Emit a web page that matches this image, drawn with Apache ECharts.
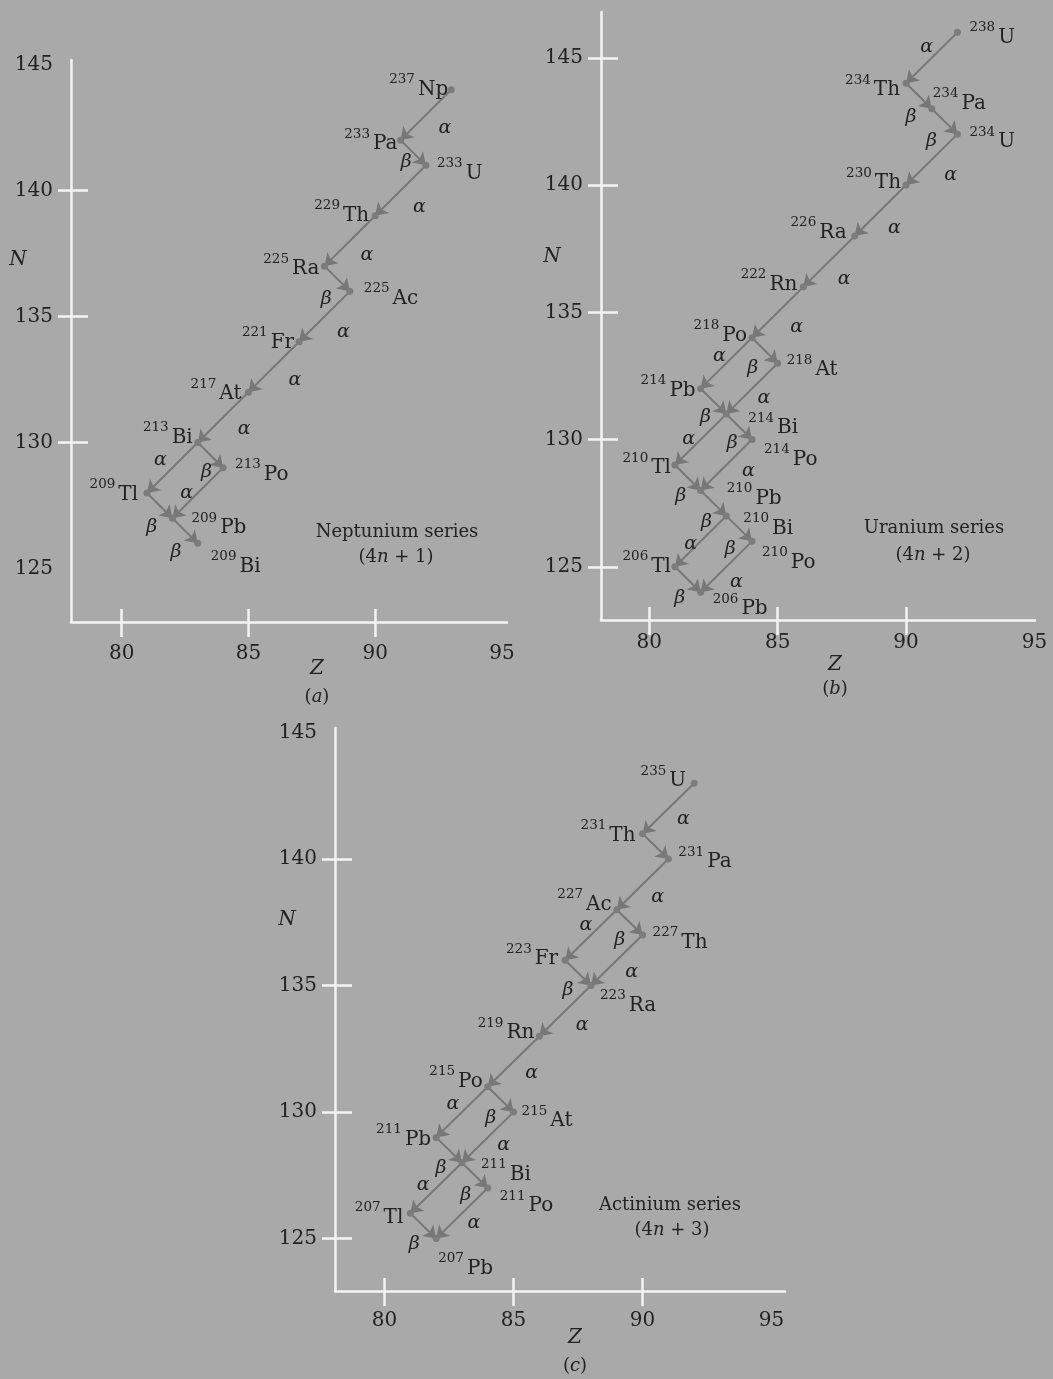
<!DOCTYPE html>
<html>
<head>
<meta charset="utf-8">
<script src="https://cdn.jsdelivr.net/npm/echarts@6/dist/echarts.min.js"></script>
<style>
  html, body { margin: 0; padding: 0; background: #a9a9a9; }
  #chart { width: 1053px; height: 1379px; }
</style>
</head>
<body>
<div id="chart"></div>
<script>
// ---- Neptunium series (4n + 1) ----
const npSymbol = ['Np', 'Pa', 'U', 'Th', 'Ra', 'Ac', 'Fr', 'At', 'Bi', 'Po', 'Tl', 'Pb', 'Bi'];
const npMass   = [237, 233, 233, 229, 225, 225, 221, 217, 213, 213, 209, 209, 209];
const npZ      = [93, 91, 92, 90, 88, 89, 87, 85, 83, 84, 81, 82, 83];
const npN      = [144, 142, 141, 139, 137, 136, 134, 132, 130, 129, 128, 127, 126];
// [parent index, daughter index, decay mode]
const npDecay  = [[0, 1, 'α'], [1, 2, 'β'], [2, 3, 'α'], [3, 4, 'α'], [4, 5, 'β'], [5, 6, 'α'],
                  [6, 7, 'α'], [7, 8, 'α'], [8, 10, 'α'], [8, 9, 'β'], [9, 11, 'α'], [10, 11, 'β'], [11, 12, 'β']];

// ---- Uranium series (4n + 2) ----
const uSymbol = ['U', 'Th', 'Pa', 'U', 'Th', 'Ra', 'Rn', 'Po', 'At', 'Pb', 'Bi', 'Po', 'Tl', 'Pb', 'Bi', 'Po', 'Tl', 'Pb'];
const uMass   = [238, 234, 234, 234, 230, 226, 222, 218, 218, 214, 214, 214, 210, 210, 210, 210, 206, 206];
const uZ      = [92, 90, 91, 92, 90, 88, 86, 84, 85, 82, 83, 84, 81, 82, 83, 84, 81, 82];
const uN      = [146, 144, 143, 142, 140, 138, 136, 134, 133, 132, 131, 130, 129, 128, 127, 126, 125, 124];
const uDecay  = [[0, 1, 'α'], [1, 2, 'β'], [2, 3, 'β'], [3, 4, 'α'], [4, 5, 'α'], [5, 6, 'α'], [6, 7, 'α'],
                 [7, 9, 'α'], [7, 8, 'β'], [8, 10, 'α'], [9, 10, 'β'], [10, 12, 'α'], [10, 11, 'β'],
                 [11, 13, 'α'], [12, 13, 'β'], [13, 14, 'β'], [14, 16, 'α'], [14, 15, 'β'], [15, 17, 'α'], [16, 17, 'β']];

// ---- Actinium series (4n + 3) ----
const acSymbol = ['U', 'Th', 'Pa', 'Ac', 'Fr', 'Th', 'Ra', 'Rn', 'Po', 'Pb', 'At', 'Bi', 'Tl', 'Po', 'Pb'];
const acMass   = [235, 231, 231, 227, 223, 227, 223, 219, 215, 211, 215, 211, 207, 211, 207];
const acZ      = [92, 90, 91, 89, 87, 90, 88, 86, 84, 82, 85, 83, 81, 84, 82];
const acN      = [143, 141, 140, 138, 136, 137, 135, 133, 131, 129, 130, 128, 126, 127, 125];
const acDecay  = [[0, 1, 'α'], [1, 2, 'β'], [2, 3, 'α'], [3, 4, 'α'], [3, 5, 'β'], [5, 6, 'α'], [4, 6, 'β'],
                  [6, 7, 'α'], [7, 8, 'α'], [8, 9, 'α'], [8, 10, 'β'], [10, 11, 'α'], [9, 11, 'β'],
                  [11, 12, 'α'], [11, 13, 'β'], [13, 14, 'α'], [12, 14, 'β']];

// Axis ticks and tick labels
const zTicks      = [80, 85, 90];
const zTickLabels = [80, 85, 90, 95];
const nTickLabels = [125, 130, 135, 140, 145];
const npNTicks    = [130, 135, 140];
const uNTicks     = [125, 130, 135, 140, 145];
const acNTicks    = [125, 130, 135, 140];

// ---- placement of the nuclide names: side of the dot, x / y shift in px ----
const npPlace = [['L', -3, 0], ['L', -3, 4], ['R', 11, 8], ['L', -6, 0], ['L', -5, 3], ['R', 14, 7], ['L', -5, 1],
                 ['L', -7, 2], ['L', -5, -5], ['R', 12, 7], ['L', -9, 2], ['R', 19, 10], ['R', 13, 23]];
const uPlace  = [['R', 12, 5], ['L', -6, 7], ['R', 1, -5], ['R', 12, 8], ['L', -5, -2], ['L', -8, -3], ['L', -6, -2],
                 ['L', -5, -2], ['R', 9, 7], ['L', -5, 2], ['R', 22, 14], ['R', 12, 20], ['L', -4, 3], ['R', 26, 8],
                 ['R', 17, 13], ['R', 10, 21], ['L', -4, 0], ['R', 12, 17]];
const acPlace = [['L', -8, -2], ['L', -7, 2], ['R', 10, 3], ['L', -5, -5], ['L', -7, -1], ['R', 10, 8], ['R', 9, 20],
                 ['L', -5, -3], ['L', -5, -5], ['L', -5, 2], ['R', 8, 9], ['R', 19, 12], ['L', -7, 4], ['R', 12, 18],
                 ['R', 2, 30]];

// shift of each α / β tag from the middle of its arrow (null: no tag)
const npTag = [[19, 13], [-7, 9], [19, 17], [17, 14], [-11, 20], [19, 16], [21, 13], [21, 12],
               [-12, -8], [-4, 17], [-11, 0], [-8, 21], [-9, 21]];
const uTag  = [[-5, -11], [-8, 21], [-13, 20], [19, 15], [14, 18], [15, 18], [19, 15], [-7, -7], [-12, 18],
               [12, 9], [-8, 16], [-12, 0], [-7, 16], [22, 6], [-7, 18], [-7, 19], [-10, 3], [-9, 20],
               [10, 15], [-8, 19]];
const acTag = [[15, 11], null, [15, 13], [-5, -10], [-10, 18], [15, 12], [-10, 17], [17, 14], [18, 12],
               [-9, -8], [-10, 19], [16, 8], [-8, 18], [-13, -3], [-9, 20], [12, 10], [-9, 18]];

// ---- look ----
const FONT = 'DejaVu Serif';
const INK = '#222222';
const AXIS = '#f4f4f4';
const MARK = '#777777';
const DOT = '#7c7c7c';

const panels = [
  { sym: npSymbol, mass: npMass, Z: npZ, N: npN, decay: npDecay, place: npPlace, tag: npTag, nTicks: npNTicks,
    grid: { left: 71, top: 60, width: 436, height: 562 }, zRange: [78.0, 95.2], nRange: [122.88, 145.18], zLabelGap: 22 },
  { sym: uSymbol, mass: uMass, Z: uZ, N: uN, decay: uDecay, place: uPlace, tag: uTag, nTicks: uNTicks,
    grid: { left: 601, top: 12, width: 434, height: 608 }, zRange: [78.12, 95.02], nRange: [122.91, 146.8], zLabelGap: 13 },
  { sym: acSymbol, mass: acMass, Z: acZ, N: acN, decay: acDecay, place: acPlace, tag: acTag, nTicks: acNTicks,
    grid: { left: 335, top: 728, width: 450, height: 563 }, zRange: [78.08, 95.52], nRange: [122.93, 145.18], zLabelGap: 20 }
];

const grids = [], xAxes = [], yAxes = [], series = [];
const tickStyle = { color: AXIS, width: 2.5 };
const tickLabel = { color: INK, fontFamily: FONT, fontSize: 20 };

panels.forEach((p, i) => {
  grids.push(Object.assign({ containLabel: false }, p.grid));
  // main Z axis (line, outer ticks, labels) + helper for the inner half of each tick
  xAxes.push({
    type: 'value', gridIndex: i, position: 'bottom', min: p.zRange[0], max: p.zRange[1],
    axisLine: { onZero: false, lineStyle: { color: AXIS, width: 2.5 } },
    axisTick: { show: true, customValues: zTicks, length: 15, lineStyle: tickStyle },
    axisLabel: Object.assign({ customValues: zTickLabels, margin: p.zLabelGap }, tickLabel),
    splitLine: { show: false }
  });
  xAxes.push({
    type: 'value', gridIndex: i, position: 'bottom', min: p.zRange[0], max: p.zRange[1],
    axisLine: { show: false, onZero: false },
    axisTick: { show: true, inside: true, customValues: zTicks, length: 13, lineStyle: tickStyle },
    axisLabel: { show: false }, splitLine: { show: false }
  });
  yAxes.push({
    type: 'value', gridIndex: i, position: 'left', min: p.nRange[0], max: p.nRange[1],
    axisLine: { onZero: false, lineStyle: { color: AXIS, width: 2.5 } },
    axisTick: { show: true, customValues: p.nTicks, length: 13, lineStyle: tickStyle },
    axisLabel: Object.assign({ customValues: nTickLabels, margin: 18 }, tickLabel),
    splitLine: { show: false }
  });
  yAxes.push({
    type: 'value', gridIndex: i, position: 'left', min: p.nRange[0], max: p.nRange[1],
    axisLine: { show: false, onZero: false },
    axisTick: { show: true, inside: true, customValues: p.nTicks, length: 17, lineStyle: tickStyle },
    axisLabel: { show: false }, splitLine: { show: false }
  });

  const ax = 2 * i;
  // decay arrows
  series.push({
    type: 'lines', coordinateSystem: 'cartesian2d', xAxisIndex: ax, yAxisIndex: ax, silent: true, z: 2,
    symbol: ['none', 'arrow'], symbolSize: 12,
    lineStyle: { color: MARK, width: 2, opacity: 1, curveness: 0 },
    data: p.decay.map(([a, b]) => ({ coords: [[p.Z[a], p.N[a]], [p.Z[b], p.N[b]]] }))
  });
  // nuclides
  series.push({
    type: 'scatter', xAxisIndex: ax, yAxisIndex: ax, silent: true, z: 3,
    symbol: 'circle', symbolSize: 7, itemStyle: { color: DOT, opacity: 1 },
    data: p.Z.map((z, k) => ({
      value: [z, p.N[k]],
      label: { align: p.place[k][0] === 'L' ? 'right' : 'left', offset: [p.place[k][1], p.place[k][2]] }
    })),
    label: {
      show: true, position: ['50%', '50%'], verticalAlign: 'middle', color: INK, opacity: 1,
      fontFamily: FONT, fontSize: 20, textBorderWidth: 0, textBorderColor: 'rgba(0,0,0,0)',
      formatter: q => `{m|${p.mass[q.dataIndex]}}{e|${p.sym[q.dataIndex]}}`,
      rich: {
        m: { fontFamily: FONT, fontSize: 13.5, lineHeight: 14, verticalAlign: 'top', padding: [0, 3, 0, 0], color: INK },
        e: { fontFamily: FONT, fontSize: 20, lineHeight: 34, verticalAlign: 'middle', color: INK }
      }
    }
  });
  // α / β tags beside the arrows
  series.push({
    type: 'scatter', xAxisIndex: ax, yAxisIndex: ax, silent: true, z: 4,
    symbol: 'circle', symbolSize: 1, itemStyle: { color: 'rgba(0,0,0,0)' },
    data: p.decay.map(([a, b], k) => ({
      value: [(p.Z[a] + p.Z[b]) / 2, (p.N[a] + p.N[b]) / 2],
      label: p.tag[k] ? { show: true, offset: p.tag[k] } : { show: false }
    })),
    label: {
      show: true, position: ['50%', '50%'], align: 'center', verticalAlign: 'middle', color: INK, opacity: 1,
      fontFamily: FONT, fontStyle: 'italic', fontSize: 19, textBorderWidth: 0, textBorderColor: 'rgba(0,0,0,0)',
      formatter: q => p.decay[q.dataIndex][2]
    }
  });
});

// axis names, panel letters and series titles
const italic = size => ({ fontFamily: FONT, fontSize: size, fontStyle: 'italic', fill: INK });
const upright = size => ({ fontFamily: FONT, fontSize: size, fontStyle: 'normal', fill: INK });
function note(x, y, text, size, isItalic, rich) {
  return {
    type: 'text', x: x, y: y, silent: true, z: 10,
    style: Object.assign({ text: text, align: 'center', verticalAlign: 'middle', rich: rich || {} },
      isItalic ? italic(size) : upright(size))
  };
}
const titles = [
  { n: [18, 260], z: [317, 669], tag: [317, 697], letter: 'a', name: 'Neptunium series', k: 1, title: [397, 532], sub: [396, 557] },
  { n: [552, 257], z: [835, 665], tag: [835, 689], letter: 'b', name: 'Uranium series', k: 2, title: [934, 528], sub: [933, 555] },
  { n: [287, 920], z: [575, 1338], tag: [575, 1366], letter: 'c', name: 'Actinium series', k: 3, title: [670, 1205], sub: [672, 1230] }
];
const graphic = [];
titles.forEach(t => {
  graphic.push(note(t.n[0], t.n[1], 'N', 20, true));
  graphic.push(note(t.z[0], t.z[1], 'Z', 20, true));
  graphic.push(note(t.tag[0], t.tag[1], `({i|${t.letter}})`, 18, false, { i: italic(18) }));
  graphic.push(note(t.title[0], t.title[1], t.name, 18, false));
  graphic.push(note(t.sub[0], t.sub[1], `(4{i|n} + ${t.k})`, 18, false, { i: italic(18) }));
});

const chart = echarts.init(document.getElementById('chart'), null, { renderer: 'canvas' });
chart.setOption({
  backgroundColor: '#a9a9a9',
  animation: false,
  grid: grids,
  xAxis: xAxes,
  yAxis: yAxes,
  series: series,
  graphic: graphic
});
</script>
</body>
</html>
